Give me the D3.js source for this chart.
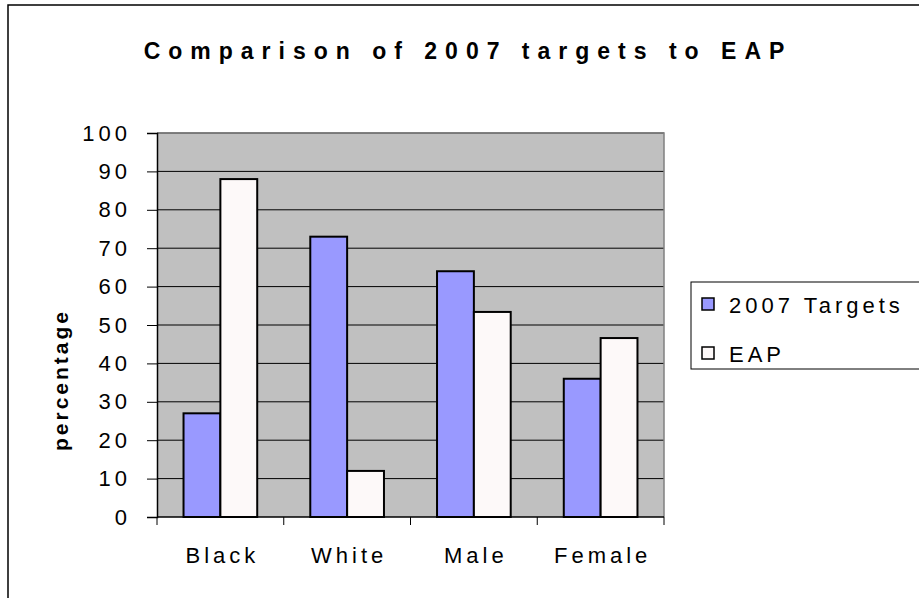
<!DOCTYPE html>
<html>
<head>
<script src="https://d3js.org/d3.v7.min.js"></script>
<style>
  body { margin: 0; background: #fff; }
  text { font-family: "Liberation Sans", Arial, sans-serif; }
</style>
</head>
<body>
<svg id="chart" width="919" height="598"></svg>
<script>
// chart data
var categories = ["Black", "White", "Male", "Female"];
var seriesNames = ["2007 Targets", "EAP"];
var targets = [27, 73, 64, 36];
var eap = [88, 12, 53.4, 46.6];
var yTicks = [0, 10, 20, 30, 40, 50, 60, 70, 80, 90, 100];

var colors = ["#9999ff", "#fdf9f9"];

var svg = d3.select("#chart");

// outer chart border (runs off the page on right and bottom)
svg.append("rect")
  .attr("x", 8).attr("y", 5)
  .attr("width", 1000).attr("height", 700)
  .attr("fill", "#fff")
  .attr("stroke", "#000")
  .attr("stroke-width", 1.5);

var pLeft = 157, pRight = 664, pTop = 133, pBottom = 517;

var x = d3.scaleBand().domain(categories).range([pLeft, pRight]).padding(0);
var xs = d3.scaleBand().domain(seriesNames).range([0, x.bandwidth()])
  .paddingInner(0).paddingOuter(0.72);
var y = d3.scaleLinear().domain([0, 100]).range([pBottom, pTop]);

// plot area
svg.append("rect")
  .attr("x", pLeft).attr("y", pTop)
  .attr("width", pRight - pLeft).attr("height", pBottom - pTop)
  .attr("fill", "#c0c0c0");

// gridlines
svg.append("g").selectAll("line")
  .data(yTicks.filter(d => d > 0))
  .enter().append("line")
  .attr("x1", pLeft).attr("x2", pRight)
  .attr("y1", d => y(d)).attr("y2", d => y(d))
  .attr("stroke", "#000").attr("stroke-width", 1);

// grey frame on top and right
svg.append("path")
  .attr("d", "M" + pLeft + "," + pTop + "H" + pRight + "V" + pBottom)
  .attr("fill", "none").attr("stroke", "#808080").attr("stroke-width", 1.5);

// bars
var rows = categories.map((c, i) => ({ cat: c, vals: [targets[i], eap[i]] }));
var groups = svg.append("g").selectAll("g")
  .data(rows).enter().append("g")
  .attr("transform", d => "translate(" + x(d.cat) + ",0)");

groups.selectAll("rect")
  .data(d => d.vals.map((v, j) => ({ name: seriesNames[j], v: v, j: j })))
  .enter().append("rect")
  .attr("x", d => xs(d.name))
  .attr("y", d => y(d.v))
  .attr("width", xs.bandwidth())
  .attr("height", d => pBottom - y(d.v))
  .attr("fill", d => colors[d.j])
  .attr("stroke", "#000")
  .attr("stroke-width", 2);

// y axis
var yAxis = d3.axisLeft(y).tickValues(yTicks).tickSize(10).tickPadding(16);
svg.append("g")
  .attr("transform", "translate(" + pLeft + ",0)")
  .call(yAxis)
  .call(g => g.select(".domain").attr("stroke", "#000").attr("stroke-width", 1.5))
  .call(g => g.selectAll(".tick line").attr("stroke", "#000"))
  .call(g => g.selectAll("text")
    .attr("font-size", 22)
    .attr("font-family", "Liberation Sans, Arial, sans-serif")
    .attr("letter-spacing", 4)
    .attr("fill", "#000"));

// x axis: labels at band centres, ticks at band edges
var xAxis = d3.axisBottom(x).tickSize(0).tickPadding(30);
svg.append("g")
  .attr("transform", "translate(0," + pBottom + ")")
  .call(xAxis)
  .call(g => g.select(".domain").remove())
  .call(g => g.selectAll("text")
    .attr("font-size", 22)
    .attr("font-family", "Liberation Sans, Arial, sans-serif")
    .attr("letter-spacing", 4)
    .attr("dx", 2)
    .attr("fill", "#000"));

var edges = categories.map(c => x(c)).concat([pRight]);
svg.append("line")
  .attr("x1", pLeft).attr("x2", pRight)
  .attr("y1", pBottom).attr("y2", pBottom)
  .attr("stroke", "#000").attr("stroke-width", 1.5);
svg.append("g").selectAll("line")
  .data(edges).enter().append("line")
  .attr("x1", d => d).attr("x2", d => d)
  .attr("y1", pBottom).attr("y2", pBottom + 8)
  .attr("stroke", "#000").attr("stroke-width", 1);

// title
svg.append("text")
  .attr("x", 468).attr("y", 59)
  .attr("text-anchor", "middle")
  .attr("font-size", 23)
  .attr("font-weight", "bold")
  .attr("letter-spacing", 8)
  .text("Comparison of 2007 targets to EAP");

// y title
svg.append("text")
  .attr("transform", "translate(68,380) rotate(-90)")
  .attr("text-anchor", "middle")
  .attr("font-size", 21)
  .attr("font-weight", "bold")
  .attr("letter-spacing", 3)
  .text("percentage");

// legend
var legend = svg.append("g");
legend.append("rect")
  .attr("x", 691).attr("y", 282)
  .attr("width", 300).attr("height", 87)
  .attr("fill", "#fff").attr("stroke", "#000").attr("stroke-width", 1);

var items = legend.selectAll("g.item")
  .data(seriesNames).enter().append("g")
  .attr("class", "item")
  .attr("transform", (d, i) => "translate(702," + (298 + i * 49) + ")");
items.append("rect")
  .attr("width", 12).attr("height", 12)
  .attr("fill", (d, i) => colors[i])
  .attr("stroke", "#000").attr("stroke-width", 1.5);
items.append("text")
  .attr("x", 27).attr("y", 14.5)
  .attr("font-size", 22)
  .attr("letter-spacing", 4)
  .text(d => d);
</script>
</body>
</html>
